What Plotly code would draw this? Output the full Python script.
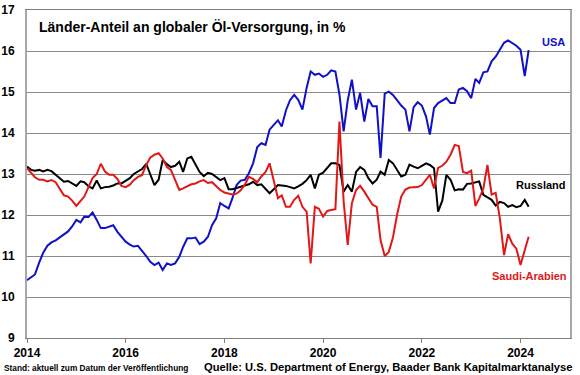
import pandas as pd
import plotly.graph_objects as go

# Monthly dates Jan 2014 .. Mar 2024
dates = pd.date_range("2014-01-01", periods=123, freq="MS")

usa = [10.41, 10.48, 10.55, 10.84, 11.08, 11.25, 11.33, 11.38, 11.46, 11.53, 11.60, 11.72,
       11.88, 11.82, 11.96, 11.95, 12.06, 11.88, 11.68, 11.68, 11.72, 11.75, 11.59, 11.47,
       11.35, 11.28, 11.23, 11.25, 11.14, 11.00, 10.86, 10.78, 10.84, 10.66, 10.82, 10.78,
       10.82, 10.98, 11.22, 11.43, 11.43, 11.45, 11.29, 11.35, 11.47, 11.75, 11.92, 12.29,
       12.22, 12.16, 12.41, 12.73, 12.84, 12.86, 13.02, 13.26, 13.66, 13.75, 13.71, 14.08,
       14.20, 14.31, 14.16, 14.55, 14.80, 14.93, 14.81, 14.57, 15.10, 15.50, 15.42, 15.45,
       15.37, 15.42, 15.53, 15.50, 14.94, 14.04, 14.79, 15.30, 14.57, 14.98, 14.28, 14.83,
       14.65, 14.65, 13.39, 14.96, 15.01, 14.93, 14.80, 14.67, 14.57, 14.04, 14.63, 14.75,
       14.67, 14.40, 13.96, 14.61, 14.73, 14.80, 14.85, 14.73, 14.73, 15.06, 15.10, 15.02,
       14.85, 15.32, 15.22, 15.48, 15.50, 15.75, 15.86, 16.03, 16.20, 16.26, 16.20, 16.13,
       16.03, 15.39, 16.02]

russland = [13.18, 13.10, 13.08, 13.10, 13.06, 13.10, 13.07, 12.98, 12.88, 12.81, 12.83, 12.78,
            12.71, 12.82, 12.80, 12.70, 12.65, 12.84, 12.65, 12.68, 12.69, 12.72, 12.77, 12.77,
            12.83, 12.90, 13.00, 13.06, 13.12, 13.25, 13.00, 12.73, 12.86, 13.34, 13.24, 13.17,
            13.20, 13.30, 13.05, 13.38, 13.42, 13.25, 13.05, 12.95, 13.03, 13.00, 12.93, 12.85,
            12.90, 12.63, 12.63, 12.66, 12.70, 12.72, 12.75, 12.81, 12.73, 12.75, 12.63, 12.53,
            12.63, 12.73, 12.72, 12.71, 12.68, 12.65, 12.70, 12.76, 12.85, 12.98, 12.65, 12.98,
            13.03, 13.16, 13.26, 13.26, 13.22, 12.57, 12.73, 12.57, 13.05, 13.17, 13.10, 12.90,
            12.77, 12.86, 13.06, 12.98, 13.34, 13.26, 13.10, 12.94, 12.98, 13.23, 13.18, 13.14,
            13.20, 13.26, 13.22, 13.14, 12.08, 12.35, 12.98, 12.86, 12.60, 12.63, 12.62, 12.76,
            12.77, 12.79, 12.82, 12.49, 12.44, 12.37, 12.23, 12.32, 12.29, 12.20, 12.24, 12.19,
            12.22, 12.37, 12.20]

saudi = [13.14, 13.02, 12.92, 12.86, 12.86, 12.82, 12.85, 12.80, 12.62, 12.48, 12.45, 12.35,
         12.22, 12.33, 12.45, 12.68, 12.90, 13.00, 13.25, 13.06, 12.98, 12.98, 12.88, 12.71,
         12.68, 12.74, 12.85, 12.93, 12.97, 13.22, 13.40, 13.47, 13.51, 13.38, 13.17, 13.10,
         12.85, 12.61, 12.65, 12.70, 12.75, 12.77, 12.82, 12.85, 12.78, 12.80, 12.70, 12.61,
         12.55, 12.53, 12.50, 12.52, 12.60, 12.74, 12.93, 12.88, 12.80, 12.94, 13.05, 13.26,
         12.80, 12.41, 12.48, 12.20, 12.20, 12.37, 12.47, 12.20, 12.08, 10.82, 12.20, 12.15,
         11.96, 12.10, 12.12, 12.14, 14.28, 12.33, 11.27, 12.29, 12.61, 12.71, 12.57, 12.40,
         12.25, 12.20, 11.39, 11.00, 11.10, 11.45, 12.00, 12.45, 12.62, 12.67, 12.67, 12.68,
         12.73, 12.85, 12.98, 12.65, 13.15, 13.20, 13.30, 13.47, 13.71, 13.68, 13.05, 13.02,
         13.08, 12.22, 12.40, 12.65, 13.22, 12.50, 12.54, 11.92, 11.02, 11.53, 11.30, 11.18,
         10.78, 11.14, 11.47]

series = [("USA", usa, "#1010c8"), ("Russland", russland, "#000000"), ("Saudi-Arabien", saudi, "#e01818")]

y_ticks = [9, 10, 11, 12, 13, 14, 15, 16, 17]
x_tick_years = ["2014", "2016", "2018", "2020", "2022", "2024"]

FONT = "Liberation Sans, Arial, sans-serif"

fig = go.Figure()
for name, vals, col in series:
    fig.add_trace(go.Scatter(x=dates, y=vals, mode="lines", name=name,
                             line=dict(color=col, width=2), hoverinfo="skip"))

fig.update_layout(
    width=580, height=375,
    margin=dict(l=27, r=10, t=10, b=37, pad=0),
    paper_bgcolor="white", plot_bgcolor="white",
    showlegend=False,
    font=dict(family=FONT, size=11, color="black"),
)

fig.update_xaxes(
    type="date",
    range=["2014-01-01", "2025-01-01"],
    tickvals=[y + "-01-01" for y in x_tick_years],
    ticktext=x_tick_years,
    ticks="outside", ticklen=4, tickcolor="#808080",
    tickfont=dict(family=FONT, size=12, color="black", weight="bold"),
    showgrid=False, zeroline=False, automargin=False,
    showline=True, linecolor="#808080", linewidth=1, mirror=True,
)
fig.update_yaxes(
    range=[9, 17],
    tickvals=y_ticks,
    ticks="", ticklabelstandoff=8,
    tickfont=dict(family=FONT, size=12, color="black", weight="bold"),
    showgrid=True, gridcolor="#8a8a8a", gridwidth=1,
    zeroline=False, automargin=False,
    showline=True, linecolor="#a8a8a8", linewidth=2, mirror=True,
)

annotations = [
    dict(text="Länder-Anteil an globaler Öl-Versorgung, in %", x=37, y=27, xanchor="left",
         yanchor="middle", font=dict(size=14, weight="bold")),
    dict(text="USA", x=553, y=42, xanchor="center", yanchor="middle",
         font=dict(size=11, weight="bold", color="#1010c8")),
    dict(text="Russland", x=541, y=185, xanchor="center", yanchor="middle",
         font=dict(size=11, weight="bold", color="black")),
    dict(text="Saudi-Arabien", x=529, y=276, xanchor="center", yanchor="middle",
         font=dict(size=11, weight="bold", color="#e01818")),
    dict(text="Stand: aktuell zum Datum der Veröffentlichung", x=2, y=368, xanchor="left",
         yanchor="middle", font=dict(size=8.3, weight="bold")),
    dict(text="Quelle: U.S. Department of Energy, Baader Bank Kapitalmarktanalyse", x=574, y=367,
         xanchor="right", yanchor="middle", font=dict(size=11.2, weight="bold")),
]
for a in annotations:
    a.update(xref="paper", yref="paper", showarrow=False)
    a["font"] = dict(family=FONT, **a["font"])
    a["x"] = (a["x"] - 27) / (570 - 27)
    a["y"] = (338 - a["y"]) / (338 - 10)
fig.update_layout(annotations=annotations)

fig.write_html("out.html", config={"displayModeBar": False},
               post_script="document.body.style.margin='0';document.body.style.overflow='hidden';")
